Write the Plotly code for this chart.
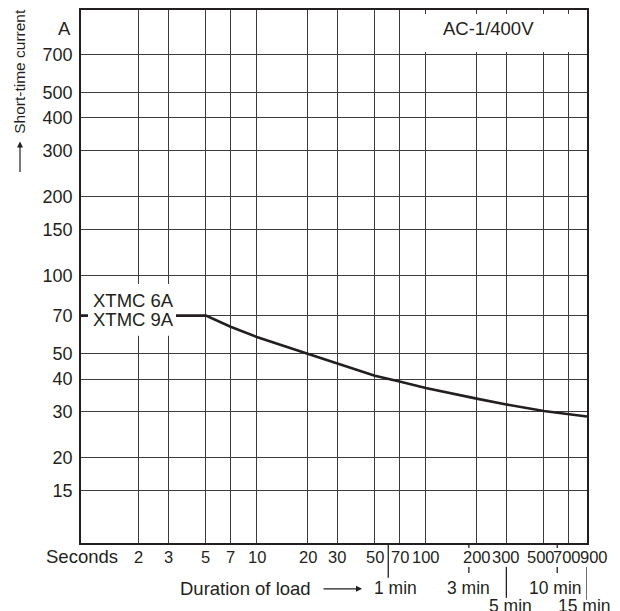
import math
import plotly.graph_objects as go

# ---------------- data ----------------
durations_s = [0.9, 5, 7, 10, 20, 30, 50, 70, 100, 200, 300, 500, 700, 900]
current_a = [70, 70, 63.5, 58, 50, 45.8, 41.2, 39.2, 37, 33.7, 32, 30.2, 29.4, 28.8]

x_tick_vals = [2, 3, 5, 7, 10, 20, 30, 50, 70, 100, 200, 300, 500, 700, 900]
x_tick_text = ["2", "3", "5", "7", "10", "20", "30", "50", "70", "100", "200", "300", "500", "700", "900"]
y_tick_vals = [15, 20, 30, 40, 50, 70, 100, 150, 200, 300, 400, 500, 700]
y_tick_text = ["15", "20", "30", "40", "50", "70", "100", "150", "200", "300", "400", "500", "700"]

min_labels = ["1 min", "3 min", "5 min", "10 min", "15 min"]
min_seconds = [60, 180, 300, 600, 900]

series_label = ["XTMC 6A", "XTMC 9A"]
condition_label = "AC-1/400V"

# ---------------- layout geometry (reference pixels) ----------------
OFF = 8  # page body margin of the browser
W, H = 620 - OFF, 611 - OFF
L, R, T, B = 81, 587, 8, 543
PW, PH = R - L, B - T


def px(x):
    return (x - L) / PW


def py(y):
    return (B - y) / PH


FONT = "Liberation Sans, Arial, Helvetica, sans-serif"
TXT = "#231f20"
GRID = "#3c3c3c"
FS = 18.5

fig = go.Figure()

fig.add_trace(go.Scatter(
    x=durations_s, y=current_a, mode="lines",
    line=dict(color="#231f20", width=2.6),
    showlegend=False, hoverinfo="skip",
))

fig.update_xaxes(
    type="log",
    range=[math.log10(0.912), math.log10(900)],
    tickvals=x_tick_vals, showticklabels=False,
    showgrid=True, gridcolor=GRID, gridwidth=1.3,
    showline=True, linecolor="#231f20", linewidth=1.5, mirror=True,
    ticks="", zeroline=False,
)
fig.update_yaxes(
    type="log",
    range=[0.975, 3.015],
    tickvals=y_tick_vals, ticktext=y_tick_text, ticklabelstandoff=3,
    showgrid=True, gridcolor=GRID, gridwidth=1.3,
    showline=True, linecolor="#231f20", linewidth=1.5, mirror=True,
    ticks="", tickfont=dict(family=FONT, size=18, color=TXT),
    zeroline=False,
)

shapes = []
# white header box (covers vertical grid lines above 700 A, right of 70 s)
shapes.append(dict(type="rect", xref="x", yref="y", x0=72, x1=880, y0=715, y1=1000,
                   fillcolor="white", line=dict(width=0), layer="above"))
# white panel behind the series labels
shapes.append(dict(type="rect", xref="paper", yref="paper", x0=px(88), x1=px(176),
                   y0=py(335), y1=py(283), fillcolor="white", line=dict(width=0),
                   layer="above"))
# minute markers below the axis
seg_spec = {
    60: [(543, 578)],
    180: [(543, 548), (567, 573)],
    300: [(567, 598)],
    600: [(543, 548), (567, 573)],
    900: [(567, 600)],
}
for s in min_seconds:
    for (y0, y1) in seg_spec[s]:
        shapes.append(dict(type="line", xref="x", yref="paper", x0=s, x1=s,
                           y0=py(y0), y1=py(y1), line=dict(color="#231f20", width=1.3)))

annotations = []


def ann(text, x, y, xref="paper", xa="center", ya="middle", size=FS, **kw):
    d = dict(text=text, xref=xref, yref="paper", x=x, y=y, xanchor=xa, yanchor=ya,
             showarrow=False, font=dict(family=FONT, size=size, color=TXT))
    d.update(kw)
    annotations.append(d)


# x tick labels (placed on the log axis by value)
x_label_shift = {500: -3, 700: -2, 900: 7}
for v, t in zip(x_tick_vals, x_tick_text):
    ann(t, math.log10(v), py(557), xref="x", size=16.5, xshift=x_label_shift.get(v, 0))

# header text
ann(condition_label, px(488), py(27))
# "A" unit
ann("A", px(73), py(27), xa="right")
# series labels
for i, lab in enumerate(series_label):
    ann(lab, px(91), py(300 + 19 * i), xa="left")
# y title + arrow
ann("Short-time current", px(20), py(70), size=15.5, textangle=-90)
annotations.append(dict(text="", xref="paper", yref="paper", x=px(20), y=py(140),
                        showarrow=True, ax=0, ay=32, arrowhead=2, arrowsize=1,
                        arrowwidth=1.2, arrowcolor=TXT))
# "Seconds"
ann("Seconds", px(120), py(557), xa="right")
# Duration of load + arrow
ann("Duration of load", px(178), py(589), xa="left")
annotations.append(dict(text="", xref="paper", yref="paper", x=px(362), y=py(589),
                        showarrow=True, ax=-40, ay=0, arrowhead=2, arrowsize=1,
                        arrowwidth=1.2, arrowcolor=TXT))
# minute labels
min_pos = {60: (7, 588), 180: (0, 588), 300: (4, 606), 600: (-2, 588), 900: (-3, 606)}
for lab, s in zip(min_labels, min_seconds):
    dx, yy = min_pos[s]
    ann(lab, math.log10(s), py(yy), xref="x", xshift=dx, size=17.5)

fig.update_layout(
    width=W, height=H,
    margin=dict(l=L - OFF, r=620 - R, t=T - OFF, b=611 - B),
    paper_bgcolor="white", plot_bgcolor="white",
    shapes=shapes, annotations=annotations,
    showlegend=False,
)

fig.write_html("out.html")
